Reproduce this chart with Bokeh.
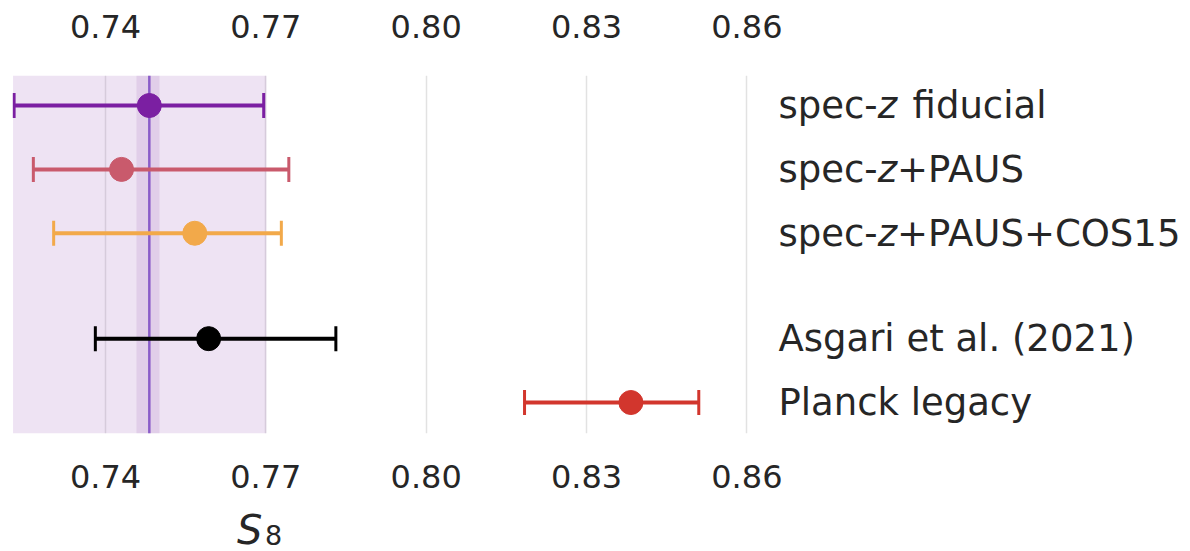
import numpy as np
from bokeh.plotting import figure
from bokeh.layouts import column
from bokeh.models import (Range1d, LinearAxis, FixedTicker, ColumnDataSource,
                          BoxAnnotation, Span, PrintfTickFormatter, Grid, Div)
from bokeh.core.properties import value
from bokeh.embed import file_html
from bokeh.resources import INLINE

# ---------------- data ----------------
names = ["spec-z fiducial", "spec-z+PAUS", "spec-z+PAUS+COS15",
         "Asgari et al. (2021)", "Planck legacy"]
s8_center = [0.7482, 0.7430, 0.7567, 0.7593, 0.8383]
s8_lower = [0.7229, 0.7265, 0.7303, 0.7381, 0.8184]
s8_upper = [0.7696, 0.7743, 0.7729, 0.7831, 0.8510]
row_pos = [0, 1, 2, 3.65, 4.65]
colors = ["#7b1fa2", "#c95a6c", "#f2a94a", "#000000", "#d2362d"]
ticks = [0.74, 0.77, 0.80, 0.83, 0.86]
band_lo, band_hi = 0.7227, 0.7701
inner_lo, inner_hi = 0.7458, 0.7501
fid_value = 0.7482

FONT = "DejaVu Sans"
TXT = "#262626"
FS = 37

p = figure(width=1190, height=510, output_backend="svg", toolbar_location=None,
           x_range=Range1d(0.7226, 0.9430), y_range=Range1d(5.135, -0.47),
           x_axis_location=None, y_axis_location=None,
           min_border_left=12, min_border_right=0,
           min_border_top=75, min_border_bottom=77)
p.outline_line_color = None
p.background_fill_color = "white"
p.border_fill_color = "white"
p.xgrid.visible = False
p.ygrid.visible = False

p.add_layout(Grid(dimension=0, ticker=FixedTicker(ticks=ticks),
                  grid_line_color="#e2e2e2", grid_line_width=1.5))

p.add_layout(BoxAnnotation(left=band_lo, right=band_hi, fill_color="#9b59b6",
                           fill_alpha=0.17, line_color=None, level="underlay"))
p.add_layout(BoxAnnotation(left=inner_lo, right=inner_hi, fill_color="#9b59b6",
                           fill_alpha=0.15, line_color=None, level="underlay"))
p.add_layout(Span(location=fid_value, dimension="height", line_color="#8a5cc8",
                  line_width=2.5, level="underlay"))

for loc, standoff in (("above", 32), ("below", 25)):
    ax = LinearAxis(ticker=FixedTicker(ticks=ticks),
                    formatter=PrintfTickFormatter(format="%.2f"),
                    axis_line_color=None, major_tick_line_color=None,
                    minor_tick_line_color=None,
                    major_label_text_font=FONT, major_label_text_font_size="32px",
                    major_label_text_color=TXT, major_label_standoff=standoff)
    p.add_layout(ax, loc)

src = ColumnDataSource(dict(c=s8_center, lo=s8_lower, hi=s8_upper, y=row_pos, col=colors))
p.segment(x0="lo", y0="y", x1="hi", y1="y", line_color="col", line_width=4, source=src)
p.scatter(x="lo", y="y", marker="dash", angle=np.pi / 2, size=25, line_color="col",
          line_width=3, source=src)
p.scatter(x="hi", y="y", marker="dash", angle=np.pi / 2, size=25, line_color="col",
          line_width=3, source=src)
p.scatter(x="c", y="y", size=24, fill_color="col", line_color="col", source=src)

# ---------------- row labels (italic z) ----------------
label_x = 0.8659
w_prefix = 2.682 * FS
w_z = 0.525 * FS
pre_t, pre_y = [], []
z_y = []
suf_t, suf_y, suf_off = [], [], []
full_t, full_y = [], []
for n, y in zip(names, row_pos):
    if n.startswith("spec-z"):
        rest = n[len("spec-z"):]
        pre_t.append("spec-"); pre_y.append(y)
        z_y.append(y)
        off = w_prefix + w_z
        if rest.startswith(" "):
            rest = rest.lstrip()
            off += 0.42 * FS
        suf_t.append(rest); suf_y.append(y); suf_off.append(off)
    else:
        full_t.append(n); full_y.append(y)

common = dict(text_font=value(FONT), text_font_size=f"{FS}px", text_color=TXT,
              text_baseline="middle", text_align="left")
p.text(x=[label_x] * len(pre_t), y=pre_y, text=pre_t, **common)
p.text(x=[label_x] * len(z_y), y=z_y, text=["z"] * len(z_y), x_offset=w_prefix,
       text_font_style="italic", **common)
p.text(x=[label_x] * len(suf_t), y=suf_y, text=suf_t, x_offset=suf_off, **common)
p.text(x=[label_x] * len(full_t), y=full_y, text=full_t, **common)

# ---------------- x label S_8 ----------------
xlabel = Div(
    text=('<div style="position:relative;width:1190px;height:41px;overflow:visible;">'
          '<span style="position:absolute;left:237px;top:0px;font-family:\'DejaVu Sans\';'
          'font-style:italic;font-size:40px;line-height:40px;color:#262626;">S</span>'
          '<span style="position:absolute;left:265px;top:12px;font-family:\'DejaVu Sans\';'
          'font-size:27px;line-height:27px;color:#262626;">8</span></div>'),
    width=1190, height=41, margin=(0, 0, 0, 0))

layout = column(p, xlabel, spacing=0)
open("out.html", "w").write(file_html(layout, INLINE))
